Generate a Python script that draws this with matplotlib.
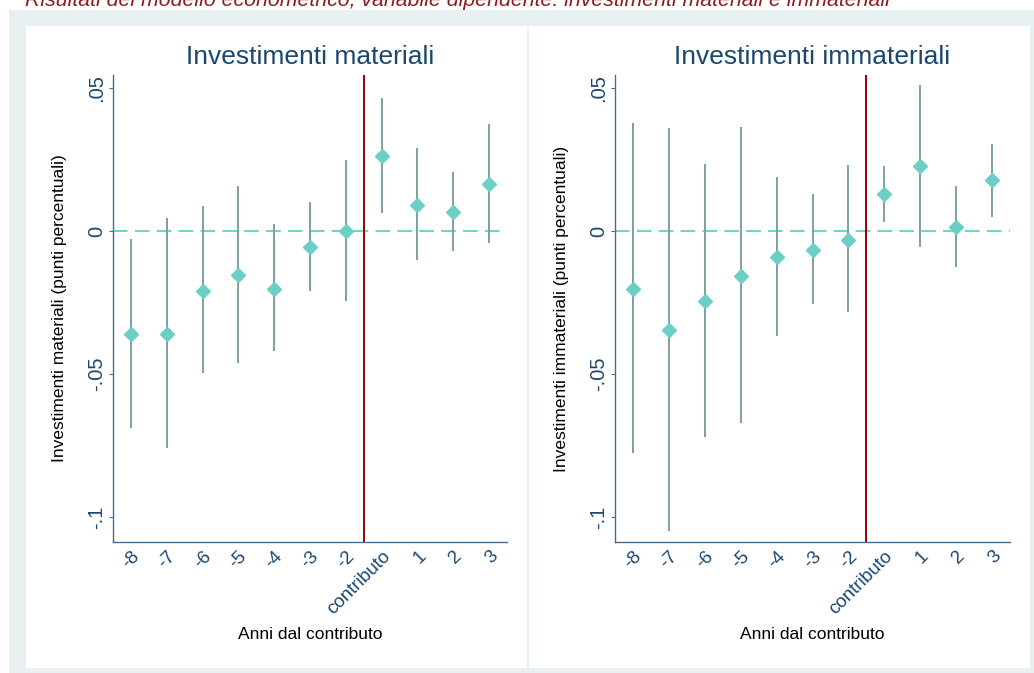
import matplotlib
matplotlib.use("Agg")
import matplotlib.pyplot as plt
from matplotlib.patches import Rectangle

plt.rcParams['font.family'] = ['Liberation Sans', 'DejaVu Sans']

# DATA

anni = ["-8", "-7", "-6", "-5", "-4", "-3", "-2", "contributo", "1", "2", "3"]

mat_coef = [-0.0361, -0.0359, -0.0209, -0.0155, -0.0202, -0.0056, 0.0000, 0.0261, 0.0091, 0.0066, 0.0163]
mat_lo = [-0.0688, -0.0758, -0.0498, -0.0463, -0.0420, -0.0210, -0.0244, 0.0063, -0.0103, -0.0071, -0.0041]
mat_hi = [-0.0029, 0.0047, 0.0086, 0.0157, 0.0024, 0.0101, 0.0248, 0.0463, 0.0289, 0.0206, 0.0373]

imm_coef = [-0.0203, -0.0347, -0.0244, -0.0157, -0.0091, -0.0065, -0.0030, 0.0128, 0.0227, 0.0014, 0.0177]
imm_lo = [-0.0775, -0.1048, -0.0719, -0.0670, -0.0367, -0.0255, -0.0284, 0.0030, -0.0056, -0.0127, 0.0050]
imm_hi = [0.0378, 0.0361, 0.0235, 0.0364, 0.0190, 0.0129, 0.0230, 0.0227, 0.0510, 0.0157, 0.0305]

y_ticks = [-0.1, -0.05, 0, 0.05]
y_ticklabels = ["-.1", "-.05", "0", ".05"]

W, H = 1034, 673
NAVY = "#1a476f"


def px(x0, y0, x1, y1):
    # pixel box (top-left origin) -> figure fraction [left, bottom, width, height]
    return [x0 / W, 1 - y1 / H, (x1 - x0) / W, (y1 - y0) / H]


fig = plt.figure(figsize=(W / 100, H / 100), dpi=100, facecolor="white")

# background frame and panels
for box, col in [((9, 10, 1034, 673), "#e9f0f2"),
                 ((26, 26, 527, 668), "white"),
                 ((529, 26, 1030, 668), "white")]:
    l, b, w, h = px(*box)
    fig.add_artist(Rectangle((l, b), w, h, transform=fig.transFigure,
                             facecolor=col, edgecolor="none", zorder=0))

# caption is cut at the top edge in the source image
fig.text(25 / W, 1 - 6 / H,
         "Risultati del modello econometrico, variabile dipendente: investimenti materiali e immateriali",
         fontsize=15.3, style="italic", color="#8e1b1b", ha="left", va="baseline")


def panel(box, coef, lo, hi, title, ylabel):
    ax = fig.add_axes(px(*box))
    ax.set_facecolor("white")
    x = list(range(len(anni)))
    ax.axhline(0, color="#72d3c8", lw=1.5, dashes=(7, 3.5), zorder=1)
    ax.axvline(6.5, color="#990000", lw=1.4, zorder=2)
    ax.vlines(x, lo, hi, color="#7f9ea6", lw=1.4, zorder=3)
    ax.plot(x, coef, linestyle="none", marker="D", ms=7.5, color="#6ccfc5", zorder=4)

    ax.set_xlim(-0.5, 10.5)
    ax.set_ylim(-0.1087, 0.0545)
    ax.set_xticks(x)
    ax.set_xticklabels(anni, rotation=45, ha="right", va="top", rotation_mode="anchor",
                       fontsize=13.5, color=NAVY)
    ax.set_yticks(y_ticks)
    ax.set_yticklabels(y_ticklabels, rotation=90, va="center", fontsize=14.5, color=NAVY)
    ax.tick_params(axis="y", length=3, color="#4a6b8a", pad=2)
    ax.tick_params(axis="x", length=0, pad=4)

    for s in ["top", "right"]:
        ax.spines[s].set_visible(False)
    for s in ["left", "bottom"]:
        ax.spines[s].set_color("#4a6b8a")
        ax.spines[s].set_linewidth(1.0)

    ax.text(0.5, 1.0385, title, transform=ax.transAxes, ha="center", va="center",
            fontsize=19, color=NAVY)
    ax.set_ylabel(ylabel, fontsize=12.5, color="black", va="center")
    ax.yaxis.set_label_coords(-0.135, 0.5)
    ax.set_xlabel("Anni dal contributo", fontsize=12.5, color="black", va="center")
    ax.xaxis.set_label_coords(0.5, -0.199)
    return ax


panel((113, 75, 507, 542), mat_coef, mat_lo, mat_hi,
      "Investimenti materiali", "Investimenti materiali (punti percentuali)")
panel((615, 75, 1010, 542), imm_coef, imm_lo, imm_hi,
      "Investimenti immateriali", "Investimenti immateriali (punti percentuali)")

fig.savefig("out.png", dpi=100, facecolor="white")
